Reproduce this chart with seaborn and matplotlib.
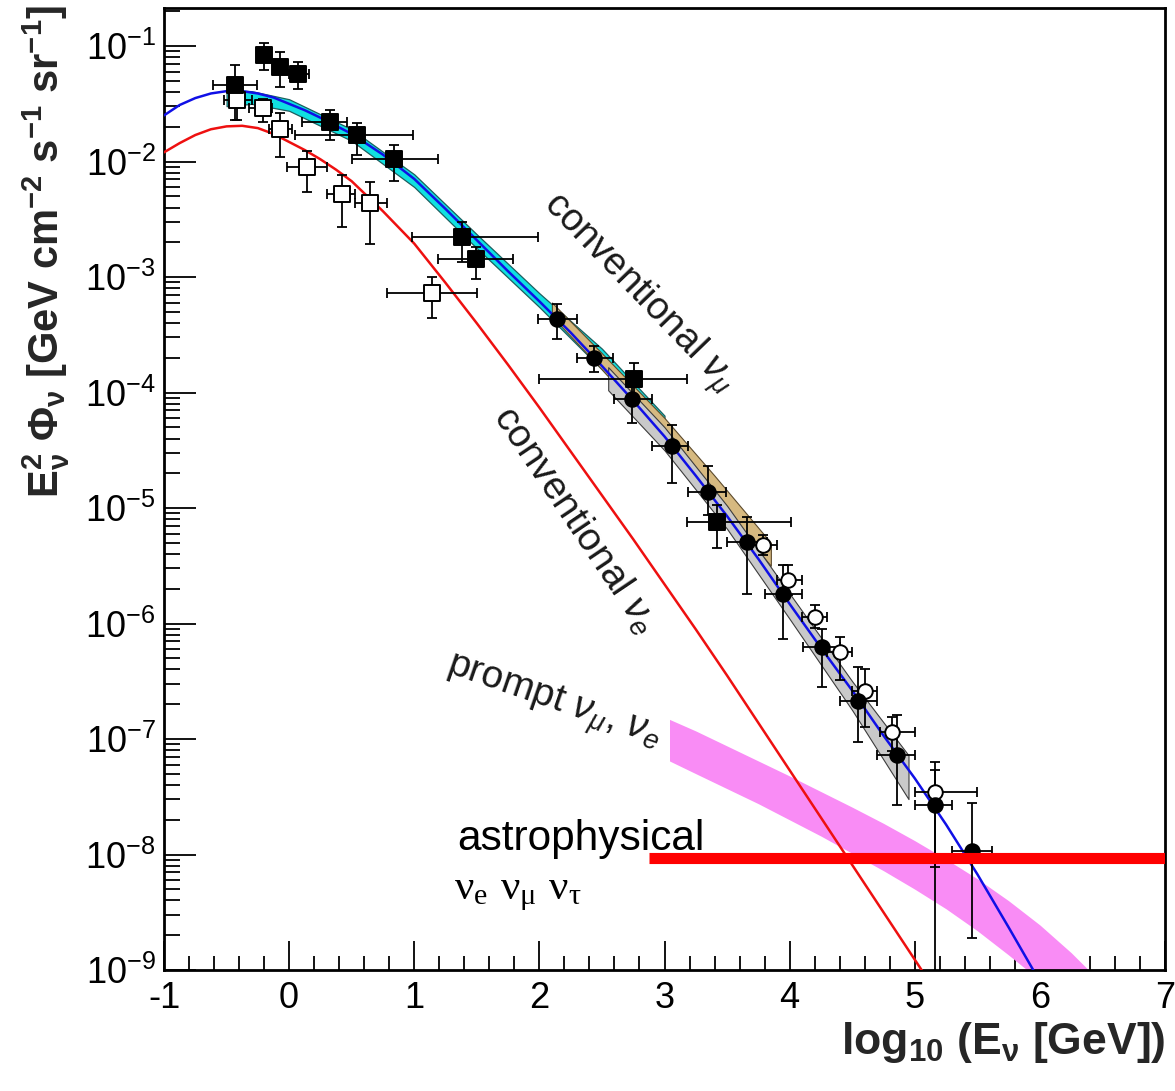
import matplotlib
matplotlib.use("Agg")
import matplotlib.pyplot as plt
import numpy as np
import pandas as pd
import seaborn as sns
from matplotlib.ticker import (FixedLocator, MultipleLocator, LogFormatterSciNotation,
                               NullFormatter, FuncFormatter)

# ---------------------------------------------------------------------------
# Data: x is log10(E / GeV); fluxes are given as log10(E^2 Phi / GeV cm^-2 s^-1 sr^-1)
# ---------------------------------------------------------------------------

# conventional nu_mu model
conv_mu_x = [-1.0, -0.875, -0.75, -0.625, -0.5, -0.375, -0.25, -0.125, 0.0, 0.125, 0.25,
             0.375, 0.5, 0.75, 1.0, 1.25, 1.5, 1.75, 2.0, 2.25, 2.5, 2.75, 3.0, 3.25,
             3.5, 3.75, 4.0, 4.25, 4.5, 4.75, 5.0, 5.25, 5.5, 5.75, 6.0]
conv_mu_logflux = [-1.60, -1.51, -1.45, -1.41, -1.39, -1.39, -1.41, -1.445, -1.50, -1.555,
                   -1.62, -1.69, -1.76, -1.94, -2.15, -2.41, -2.68, -2.95, -3.21, -3.48,
                   -3.77, -4.07, -4.38, -4.72, -5.07, -5.44, -5.83, -6.21, -6.58, -6.97,
                   -7.34, -7.74, -8.17, -8.63, -9.10]

# conventional nu_e model
conv_e_x = [-1.0, -0.875, -0.75, -0.625, -0.5, -0.375, -0.25, -0.125, 0.0, 0.125, 0.25,
            0.375, 0.5, 0.75, 1.0, 1.25, 1.5, 1.75, 2.0, 2.25, 2.5, 2.75, 3.0, 3.25,
            3.5, 3.75, 4.0, 4.25, 4.5, 4.75, 5.0, 5.25]
conv_e_logflux = [-1.92, -1.84, -1.77, -1.72, -1.695, -1.69, -1.71, -1.76, -1.83, -1.90,
                  -1.98, -2.07, -2.17, -2.43, -2.71, -3.05, -3.40, -3.76, -4.13, -4.51,
                  -4.89, -5.27, -5.66, -6.05, -6.45, -6.86, -7.27, -7.68, -8.09, -8.50,
                  -8.91, -9.32]

# prompt nu_mu, nu_e band
prompt_x = [3.04, 3.25, 3.5, 3.75, 4.0, 4.25, 4.5, 4.75, 5.0, 5.25, 5.5, 5.75, 6.0, 6.25, 6.5]
prompt_log_hi = [-6.83, -6.93, -7.06, -7.19, -7.32, -7.455, -7.59, -7.73, -7.88, -8.04,
                 -8.21, -8.40, -8.61, -8.85, -9.12]
prompt_log_lo = [-7.19, -7.30, -7.43, -7.56, -7.70, -7.84, -7.99, -8.14, -8.30, -8.47,
                 -8.66, -8.87, -9.09, -9.33, -9.60]

# unfolded spectrum bands
cyan_x = [-0.5, -0.3, 0.0, 0.5, 1.0, 1.5, 2.0, 2.5, 3.0]
cyan_log_hi = [-1.38, -1.39, -1.46, -1.72, -2.11, -2.63, -3.14, -3.62, -4.20]
cyan_log_lo = [-1.52, -1.50, -1.56, -1.82, -2.22, -2.75, -3.26, -3.80, -4.36]

tan_x = [2.1, 2.5, 3.0, 3.4, 3.85]
tan_log_hi = [-3.22, -3.66, -4.22, -4.72, -5.30]
tan_log_lo = [-3.34, -3.80, -4.40, -4.92, -5.50]

grey_x = [2.55, 3.0, 3.5, 4.0, 4.5, 4.95]
grey_log_hi = [-3.78, -4.30, -4.98, -5.74, -6.50, -7.14]
grey_log_lo = [-3.98, -4.50, -5.18, -5.96, -6.75, -7.52]

# filled squares
fsq_x = [-0.43, -0.20, -0.07, 0.07, 0.33, 0.54, 0.84, 1.38, 1.49, 2.76, 3.42]
fsq_logy = [-1.34, -1.08, -1.18, -1.24, -1.66, -1.77, -1.98, -2.65, -2.84, -3.88, -5.12]
fsq_logy_lo = [-1.64, -1.21, -1.35, -1.37, -1.81, -1.94, -2.17, -2.87, -3.02, -4.09, -5.35]
fsq_logy_hi = [-1.16, -0.97, -1.05, -1.14, -1.55, -1.67, -1.86, -2.52, -2.74, -3.74, -4.97]
fsq_x_lo = [-0.61, -0.20, -0.07, 0.00, 0.10, 0.05, 0.50, 0.98, 1.19, 2.00, 3.18]
fsq_x_hi = [-0.26, -0.20, -0.07, 0.16, 0.46, 0.99, 1.19, 1.99, 1.79, 3.18, 4.01]

# open squares
osq_x = [-0.42, -0.21, -0.07, 0.14, 0.42, 0.65, 1.14]
osq_logy = [-1.47, -1.54, -1.72, -2.05, -2.28, -2.36, -3.14]
osq_logy_lo = [-1.64, -1.66, -1.96, -2.26, -2.57, -2.71, -3.35]
osq_logy_hi = [-1.32, -1.46, -1.58, -1.91, -2.12, -2.18, -3.00]
osq_x_lo = [-0.52, -0.32, -0.16, -0.02, 0.30, 0.53, 0.78]
osq_x_hi = [-0.30, -0.14, 0.02, 0.30, 0.53, 0.78, 1.50]

# filled circles
fci_x = [2.14, 2.44, 2.74, 3.06, 3.35, 3.66, 3.95, 4.26, 4.55, 4.86, 5.16, 5.46]
fci_logy = [-3.36, -3.70, -4.06, -4.46, -4.86, -5.29, -5.74, -6.20, -6.67, -7.14, -7.57, -7.97]
fci_logy_lo = [-3.54, -3.82, -4.26, -4.78, -5.06, -5.74, -6.13, -6.55, -7.03, -7.57, -9.60, -8.72]
fci_logy_hi = [-3.23, -3.60, -3.95, -4.28, -4.64, -5.08, -5.49, -6.05, -6.38, -6.79, -7.27, -7.55]
fci_x_lo = [1.99, 2.30, 2.60, 2.90, 3.19, 3.50, 3.80, 4.11, 4.40, 4.70, 5.00, 5.30]
fci_x_hi = [2.30, 2.59, 2.90, 3.19, 3.49, 3.82, 4.10, 4.40, 4.70, 5.00, 5.30, 5.62]

# open circles
oci_x = [3.79, 3.99, 4.20, 4.40, 4.60, 4.82, 5.16]
oci_logy = [-5.32, -5.62, -5.94, -6.25, -6.58, -6.94, -7.46]
oci_logy_lo = [-5.41, -5.75, -6.04, -6.49, -6.90, -7.10, -8.11]
oci_logy_hi = [-5.23, -5.49, -5.84, -6.12, -6.39, -6.81, -7.20]
oci_x_lo = [3.70, 3.90, 4.10, 4.30, 4.50, 4.72, 5.00]
oci_x_hi = [3.90, 4.10, 4.30, 4.50, 4.70, 5.00, 5.50]

# astrophysical flux level
astro_x = [2.88, 7.0]
astro_flux = [9.3e-9, 9.3e-9]

x_ticks = [-1, 0, 1, 2, 3, 4, 5, 6, 7]
y_ticks = [1e-9, 1e-8, 1e-7, 1e-6, 1e-5, 1e-4, 1e-3, 1e-2, 1e-1]
y_minor_ticks = [m * d for d in y_ticks for m in range(2, 10) if m * d < 0.21]

# ---------------------------------------------------------------------------
sns.set_theme(style="ticks")
plt.rcParams["font.family"] = ["Liberation Sans", "DejaVu Sans"]
plt.rcParams["mathtext.fontset"] = "custom"
plt.rcParams["mathtext.rm"] = "Liberation Sans"
plt.rcParams["mathtext.it"] = "Liberation Sans:italic"
plt.rcParams["mathtext.bf"] = "Liberation Sans:bold"
plt.rcParams["mathtext.sf"] = "Liberation Serif"
plt.rcParams["axes.unicode_minus"] = False

W, H = 1175, 1091
fig = plt.figure(figsize=(W / 100, H / 100), dpi=100)
ax = fig.add_axes([164 / W, 1 - 970 / H, (1165 - 164) / W, (970 - 8) / H])
ax.set_yscale("log")
ax.set_xlim(-1, 7)
ax.set_ylim(1e-9, 10 ** -0.67)

p10 = lambda a: np.power(10.0, np.asarray(a, dtype=float))

# bands
ax.fill_between(prompt_x, p10(prompt_log_lo), p10(prompt_log_hi),
                color="#f98cf5", lw=0, zorder=1.5)
ax.fill_between(cyan_x, p10(cyan_log_lo), p10(cyan_log_hi),
                facecolor="#10e0e0", edgecolor="#1c5f5f", lw=0.9, zorder=2)
ax.fill_between(tan_x, p10(tan_log_lo), p10(tan_log_hi),
                facecolor="#d6b980", edgecolor="#5c4a2c", lw=0.8, zorder=2.1)
ax.fill_between(grey_x, p10(grey_log_lo), p10(grey_log_hi),
                facecolor="#c9c9c9", edgecolor="#3c3c3c", lw=0.8, zorder=2.2)

# model curves
curves = pd.DataFrame({"x": conv_mu_x, "flux": p10(conv_mu_logflux)})
sns.lineplot(data=curves, x="x", y="flux", color="#1010e6", lw=1.8, ax=ax,
             zorder=3, sort=False)
curves_e = pd.DataFrame({"x": conv_e_x, "flux": p10(conv_e_logflux)})
sns.lineplot(data=curves_e, x="x", y="flux", color="#ee1010", lw=1.8, ax=ax,
             zorder=3, sort=False)


def draw_points(x, logy, ylo, yhi, xlo, xhi, marker, face, size):
    x = np.asarray(x, float)
    y = p10(logy)
    yerr = [y - p10(ylo), p10(yhi) - y]
    xerr = [x - np.asarray(xlo, float), np.asarray(xhi, float) - x]
    ax.errorbar(x, y, xerr=xerr, yerr=yerr, fmt="none", ecolor="black",
                elinewidth=1.3, capsize=3.8, capthick=1.3, zorder=4)
    sns.scatterplot(x=x, y=y, marker=marker, s=size, color=face,
                    edgecolor="black", linewidth=1.4, ax=ax, zorder=5)


draw_points(osq_x, osq_logy, osq_logy_lo, osq_logy_hi, osq_x_lo, osq_x_hi, "s", "white", 120)
draw_points(fsq_x, fsq_logy, fsq_logy_lo, fsq_logy_hi, fsq_x_lo, fsq_x_hi, "s", "black", 120)
draw_points(oci_x, oci_logy, oci_logy_lo, oci_logy_hi, oci_x_lo, oci_x_hi, "o", "white", 110)
draw_points(fci_x, fci_logy, fci_logy_lo, fci_logy_hi, fci_x_lo, fci_x_hi, "o", "black", 110)

# astrophysical level
ax.plot(astro_x, astro_flux, color="#ff0000", lw=8, solid_capstyle="butt", zorder=6)

# annotations
txt = "#1a1a1a"
ax.text(2.016, 10 ** -2.385, r"conventional $\nu_{\mu}$", rotation=-46,
        rotation_mode="anchor", ha="left", va="baseline", fontsize=27.5, color=txt, zorder=7)
ax.text(1.62, 10 ** -4.21, r"conventional $\nu_{e}$", rotation=-56,
        rotation_mode="anchor", ha="left", va="baseline", fontsize=28, color=txt, zorder=7)
ax.text(1.24, 10 ** -6.43, r"prompt $\nu_{\mu}$, $\nu_{e}$", rotation=-19,
        rotation_mode="anchor", ha="left", va="baseline", fontsize=28, color=txt, zorder=7)
ax.text(1.344, 10 ** -7.96, "astrophysical", ha="left", va="baseline",
        fontsize=30.5, color="black", zorder=7)
ax.text(1.32, 10 ** -8.39, r"$\mathsf{\nu_{e}\ \nu_{\mu}\ \nu_{\tau}}$", ha="left",
        va="baseline", fontsize=31, color="black", zorder=7)

# axes styling
for side in ["left", "right", "top", "bottom"]:
    ax.spines[side].set_linewidth(2.0)
    ax.spines[side].set_color("black")

ax.xaxis.set_major_locator(FixedLocator(x_ticks))
ax.xaxis.set_minor_locator(MultipleLocator(0.2))
ax.xaxis.set_major_formatter(FuncFormatter(lambda v, p: f"{v:.0f}"))
ax.yaxis.set_major_locator(FixedLocator(y_ticks))
ax.yaxis.set_minor_locator(FixedLocator(y_minor_ticks))
ax.yaxis.set_major_formatter(LogFormatterSciNotation())
ax.yaxis.set_minor_formatter(NullFormatter())

ax.tick_params(axis="both", which="both", direction="in", top=False, right=False,
               colors="black", width=1.3)
ax.tick_params(axis="y", which="major", length=23, labelsize=26, pad=6)
ax.tick_params(axis="y", which="minor", length=11.5)
ax.tick_params(axis="x", which="major", length=21, labelsize=26, pad=8)
ax.tick_params(axis="x", which="minor", length=10)

ax.set_xlabel(r"$\mathbf{log_{10}\ (E_{\nu}\ [GeV])}$", fontsize=32, loc="right")
ax.xaxis.set_label_coords(1.0, -0.052)
ax.set_ylabel(r"$\mathbf{E^{2}_{\nu}\ \Phi_{\nu}\ [GeV\ cm^{-2}\ s^{-1}\ sr^{-1}]}$",
              fontsize=30, loc="top")
ax.yaxis.set_label_coords(-0.092, 1.003)

fig.savefig("out.png", dpi=100, facecolor="white")
